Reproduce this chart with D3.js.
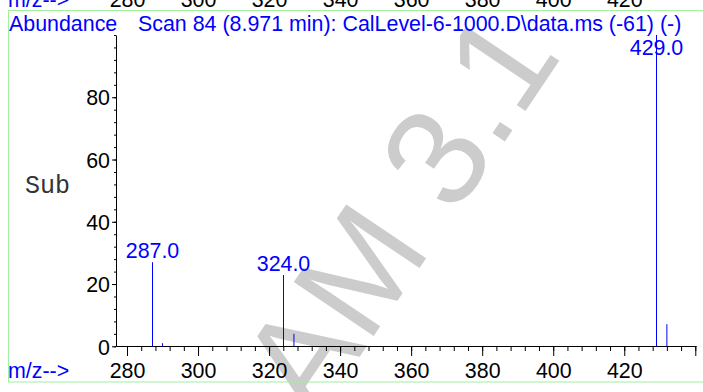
<!DOCTYPE html>
<html><head><meta charset="utf-8">
<script src="https://cdn.jsdelivr.net/npm/d3@7"></script>
<style>html,body{margin:0;padding:0;background:#fff;overflow:hidden}</style>
</head><body><svg id="c" width="703" height="392"></svg>
<script>
// ---- data ----
const mz = [287, 290, 324, 327, 429, 432];
const abundance = [27.0, 1.0, 22.9, 4.0, 100, 7.1];
const peakLabels = ["287.0", "", "324.0", "", "429.0", ""];
const xTickLabels = [280, 300, 320, 340, 360, 380, 400, 420];
const yTickLabels = [0, 20, 40, 60, 80];
const headerLeft = "Abundance";
const headerTitle = "Scan 84 (8.971 min): CalLevel-6-1000.D\\data.ms (-61) (-)";
const xAxisTitle = "m/z-->";
const sideLabel = "Sub";
const watermarkText = "AM 3.1";

// ---- drawing ----
const FONT = "'Liberation Sans', Arial, Helvetica, sans-serif";
const FS = 21.4;
const BLUE = "#0000ff";
const svg = d3.select("#c");

const x = d3.scaleLinear().domain([276.9, 440.2]).range([116, 696]);
const y = d3.scaleLinear().domain([0, 100]).range([346.3, 35]);

// watermark (behind everything)
svg.append("text")
  .attr("transform", "translate(315,423) rotate(-56)")
  .attr("font-family", FONT).attr("font-size", 140)
  .attr("fill", "#cccccc")
  .text(watermarkText);

// panel border
svg.append("rect")
  .attr("x", 8.5).attr("y", 10.5).attr("width", 720).attr("height", 371.5)
  .attr("fill", "none").attr("stroke", "#a0f0a0").attr("stroke-width", 1);

// fragment of the previous panel at the top
svg.append("g").selectAll("text").data(xTickLabels).join("text")
  .attr("x", d => x(d) + 0.5).attr("y", 6.5)
  .attr("text-anchor", "middle")
  .attr("font-family", FONT).attr("font-size", FS).attr("fill", "#000")
  .text(d => d);
svg.append("text").attr("x", 8).attr("y", 6.5)
  .attr("font-family", FONT).attr("font-size", FS).attr("fill", BLUE)
  .text(xAxisTitle);

// header
svg.append("text").attr("x", 9).attr("y", 30.5)
  .attr("font-family", FONT).attr("font-size", FS).attr("fill", BLUE)
  .text(headerLeft);
svg.append("text").attr("x", 138).attr("y", 30.5)
  .attr("font-family", FONT).attr("font-size", FS).attr("fill", BLUE)
  .text(headerTitle);

// side label
svg.append("text").attr("x", 25).attr("y", 192.5)
  .attr("font-family", "'Liberation Mono', 'Courier New', monospace")
  .attr("font-size", 25).attr("fill", "#333")
  .text(sideLabel);

// x axis: minor and major
const xMinor = d3.range(280, 441, 4);
const xMajor = d3.range(280, 441, 20);
const gxMinor = svg.append("g").attr("transform", "translate(0,346)")
  .call(d3.axisBottom(x).tickValues(xMinor).tickSize(5).tickSizeOuter(0).tickFormat(""));
gxMinor.select(".domain").remove();
const gx = svg.append("g").attr("transform", "translate(0,346)")
  .call(d3.axisBottom(x).tickValues(xMajor).tickSize(10).tickSizeOuter(0)
    .tickFormat(d => xTickLabels.includes(d) ? d : ""));
gx.selectAll("text").attr("font-family", FONT).attr("font-size", FS)
  .attr("fill", "#000").attr("dy", null).attr("y", 32);

// y axis: minor and major
const gyMinor = svg.append("g").attr("transform", "translate(116,0)")
  .call(d3.axisLeft(y).tickValues(d3.range(0, 101, 4)).tickSize(2).tickSizeOuter(0).tickFormat(""));
gyMinor.select(".domain").remove();
const gy = svg.append("g").attr("transform", "translate(116,0)")
  .call(d3.axisLeft(y).tickValues(yTickLabels).tickSize(4).tickSizeOuter(0));
gy.selectAll("text").attr("font-family", FONT).attr("font-size", FS)
  .attr("fill", "#000").attr("x", -6).attr("dy", "0.36em");
svg.selectAll(".tick line, .domain").attr("stroke", "#000");

// x axis title
svg.append("text").attr("x", 8).attr("y", 378)
  .attr("font-family", FONT).attr("font-size", FS).attr("fill", BLUE)
  .text(xAxisTitle);

// peaks
const peaks = mz.map((m, i) => ({ m, v: abundance[i], label: peakLabels[i] }));
svg.append("g").selectAll("text").data(peaks.filter(p => p.label)).join("text")
  .attr("x", p => Math.round(x(p.m)) + 0.5)
  .attr("y", p => Math.max(y(p.v) - 4, 55))
  .attr("text-anchor", "middle")
  .attr("font-family", FONT).attr("font-size", FS).attr("fill", BLUE)
  .text(p => p.label);
svg.append("g").selectAll("line").data(peaks).join("line")
  .attr("x1", p => p.label ? Math.round(x(p.m)) + 0.5 : x(p.m))
  .attr("x2", p => p.label ? Math.round(x(p.m)) + 0.5 : x(p.m))
  .attr("y1", y(0)).attr("y2", p => y(p.v))
  .attr("stroke", BLUE).attr("stroke-width", 1);
</script></body></html>
